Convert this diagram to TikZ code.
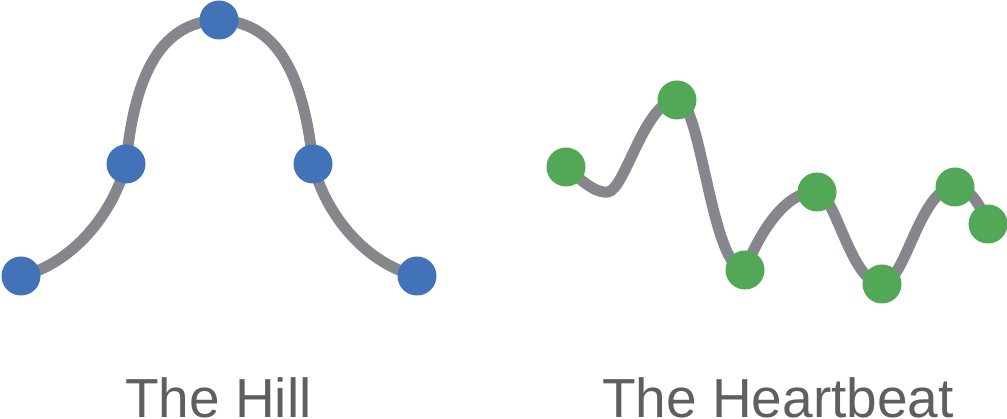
\documentclass[tikz,border=0pt]{standalone}
\usepackage{fontspec}
\setmainfont{Liberation Sans}
\definecolor{curvegray}{HTML}{85878D}
\definecolor{dotblue}{HTML}{4272B8}
\definecolor{dotgreen}{HTML}{52A857}
\definecolor{labelgray}{HTML}{5F5F5F}
\tikzset{
  curveline/.style={draw=curvegray, line width=11pt, line cap=round},
  bluedot/.style={circle, fill=dotblue, minimum size=39pt, inner sep=0pt},
  greendot/.style={circle, fill=dotgreen, minimum size=39pt, inner sep=0pt},
  caption/.style={anchor=base, text=labelgray, font=\fontsize{55}{60}\selectfont, inner sep=0pt}
}
\begin{document}
\begin{tikzpicture}[x=1pt,y=-1pt]
\useasboundingbox (0,0) rectangle (1007,419);
% Hill
\coordinate (h1) at (21,276);
\coordinate (h2) at (126,164);
\coordinate (h3) at (219,20);
\coordinate (h4) at (313,164);
\coordinate (h5) at (417,276);
\draw[curveline] (h1) .. controls (72,264) and (113,214) .. (h2)
  .. controls (136,58) and (170,22) .. (h3)
  .. controls (268,22) and (302,58) .. (h4)
  .. controls (325,214) and (366,264) .. (h5);
\foreach \n in {h1,h2,h3,h4,h5} \node[bluedot] (d\n) at (\n) {};
% Heartbeat
\coordinate (a) at (566,167);
\coordinate (m) at (608,192);
\coordinate (b) at (677,100);
\coordinate (c) at (745,270);
\coordinate (d) at (817,192);
\coordinate (e) at (882,284);
\coordinate (f) at (955,187);
\coordinate (g) at (988,224);
\draw[curveline] (a) .. controls (588,187) and (598,193) .. (m)
  .. controls (625,190) and (645,100) .. (b)
  .. controls (701,97) and (711,270) .. (c)
  .. controls (758,236) and (785,190) .. (d)
  .. controls (835,192) and (851,284) .. (e)
  .. controls (905,284) and (920,187) .. (f)
  .. controls (970,187) and (980,205) .. (g);
\foreach \n in {a,b,c,d,e,f,g} \node[greendot] (d\n) at (\n) {};
% Labels
\node[caption] (hilllabel) at (218.5,417.5) {The Hill};
\node[caption] (heartlabel) at (778,417.5) {The Heartbeat};
\end{tikzpicture}
\end{document}
